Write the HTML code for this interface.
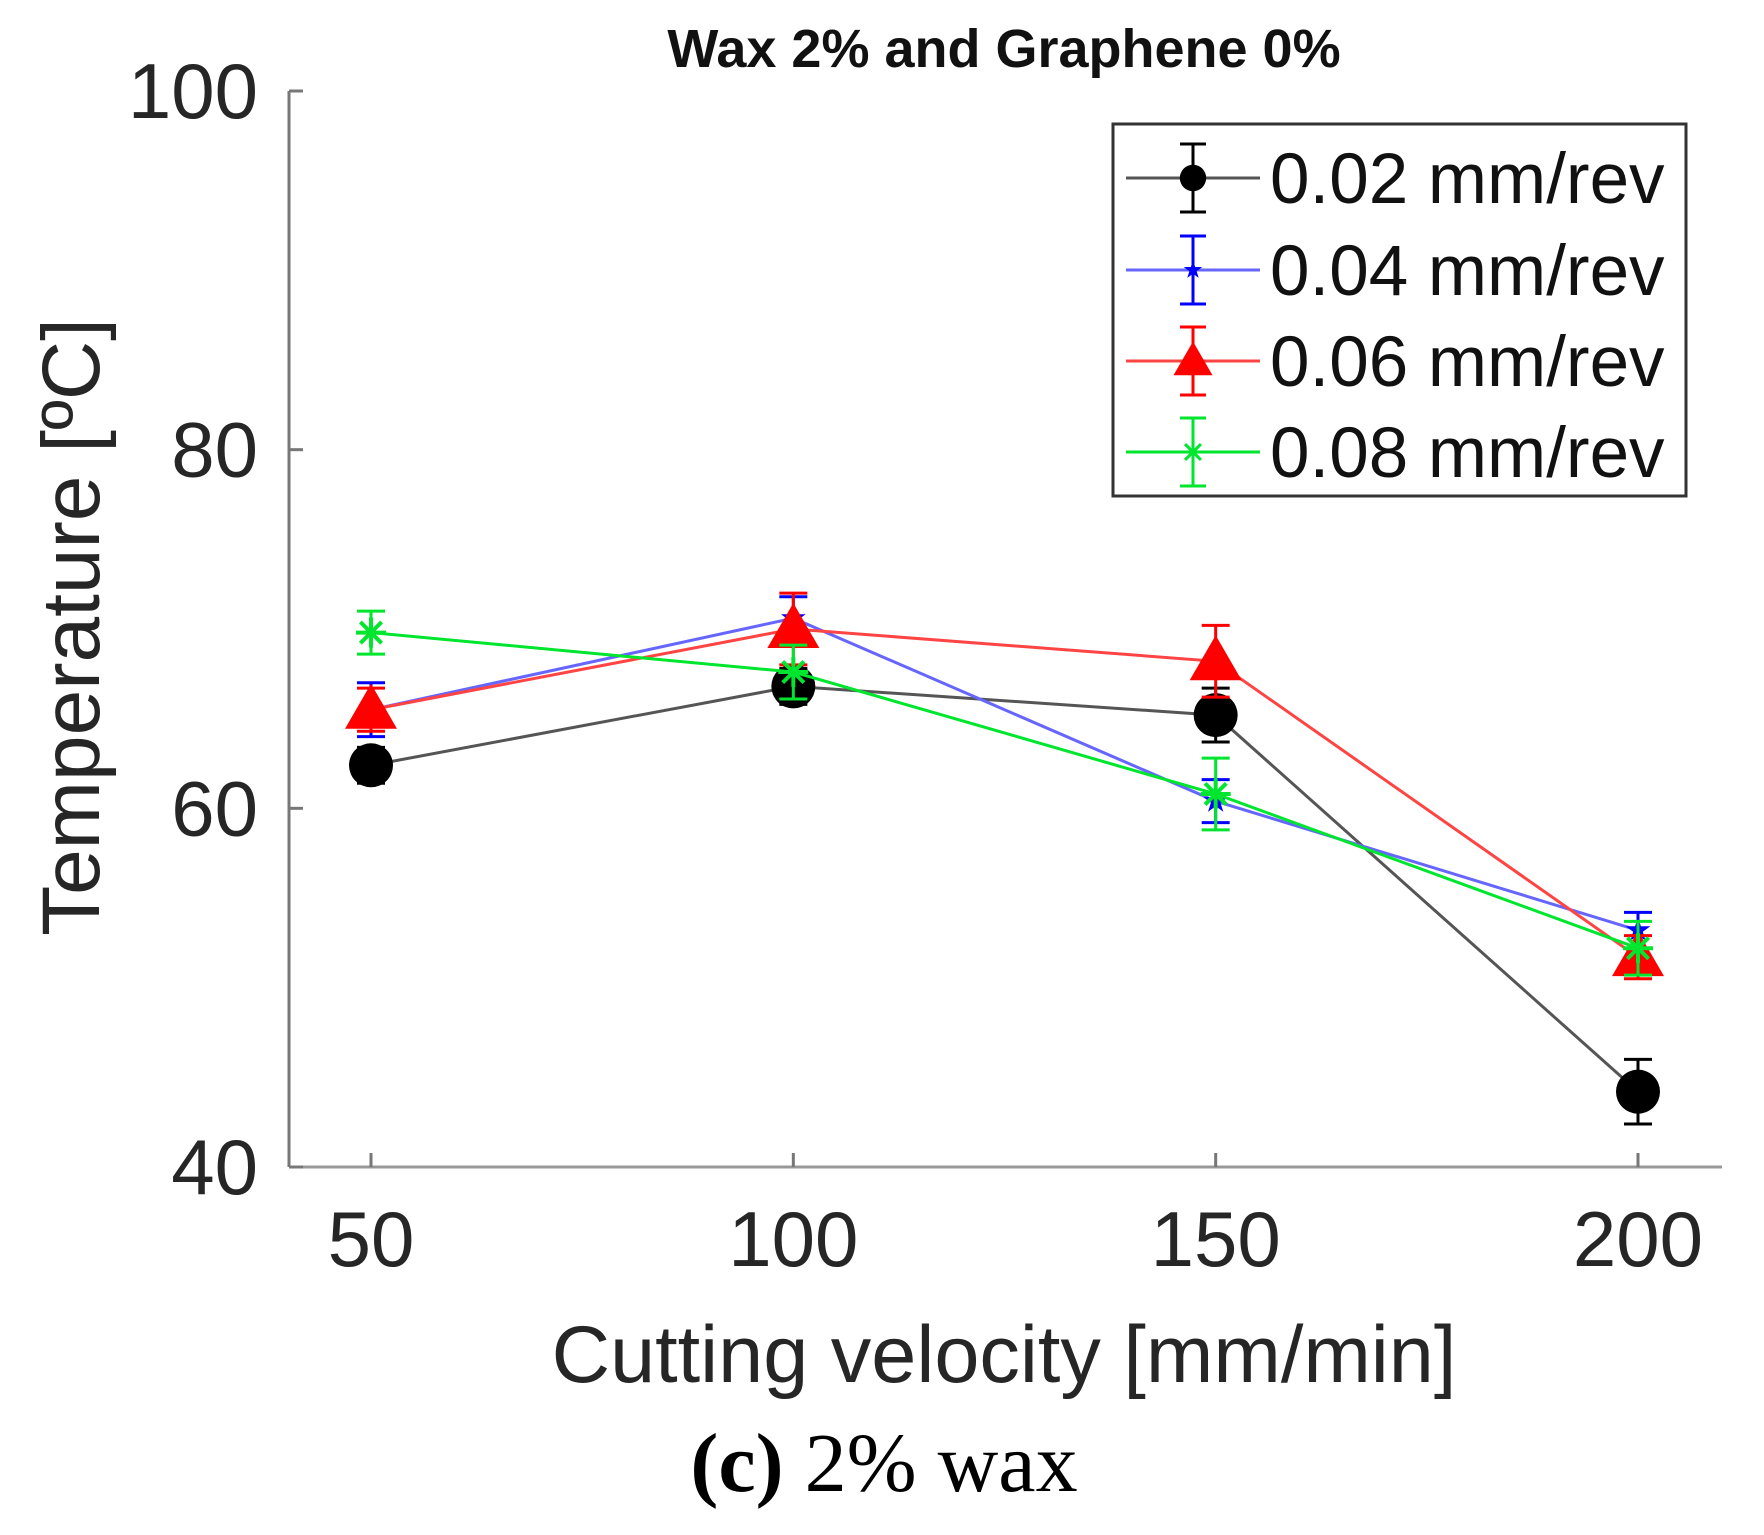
<!DOCTYPE html>
<html><head><meta charset="utf-8">
<style>
html,body{margin:0;padding:0;background:#fff;}
svg{display:block;}
</style></head>
<body>
<svg id="chart" width="1764" height="1535" viewBox="0 0 1764 1535" xmlns="http://www.w3.org/2000/svg" font-family="Liberation Sans, sans-serif">
<text x="1004" y="67" text-anchor="middle" font-size="54" font-weight="bold" fill="#111">Wax 2% and Graphene 0%</text>
<g id="axes"></g>
<g id="series"></g>
<g id="legend"></g>
<text transform="translate(99,627) rotate(-90)" text-anchor="middle" font-size="82" fill="#262626">Temperature [ºC]</text>
<text x="1004" y="1382" text-anchor="middle" font-size="81" fill="#262626">Cutting velocity [mm/min]</text>
<text x="884" y="1491" text-anchor="middle" font-size="84" font-family="Liberation Serif, serif" fill="#000"><tspan font-weight="bold">(c)</tspan> 2% wax</text>
</svg>
<script>
const categories = [50, 100, 150, 200];
const yTicks = [40, 60, 80, 100];
const seriesNames = ['0.02 mm/rev', '0.04 mm/rev', '0.06 mm/rev', '0.08 mm/rev'];
const s002 = [62.4, 66.8, 65.2, 44.2];
const s004 = [65.5, 70.6, 60.4, 53.2];
const s006 = [65.5, 70.0, 68.2, 51.7];
const s008 = [69.8, 67.6, 60.8, 52.2];
const e002 = [1.0, 1.0, 1.5, 1.8];
const e004 = [1.5, 1.2, 1.2, 1.0];
const e006 = [1.2, 2.0, 2.0, 1.2];
const e008 = [1.2, 1.5, 2.0, 1.5];

const NS = 'http://www.w3.org/2000/svg';
const X0 = 289, X1 = 1722, Y0 = 1167, Y1 = 91;
function xs(v){ return 371 + (v - 50) * (1638 - 371) / 150; }
function ys(v){ return Y0 - (v - 40) * (Y0 - Y1) / 60; }
function mk(tag, attrs, parent){ const e = document.createElementNS(NS, tag); for (const k in attrs) e.setAttribute(k, attrs[k]); parent.appendChild(e); return e; }

const axes = document.getElementById('axes');
let a = mk('line', {x1:X0, y1:Y1, x2:X0, y2:Y0, stroke:'#777', 'stroke-width':3}, axes);


a = mk('line', {x1:X0, y1:Y0, x2:X1, y2:Y0, stroke:'#999', 'stroke-width':3}, axes);


yTicks.forEach(t => {
  const y = ys(t);
  mk('line', {x1:X0, y1:y, x2:X0+14, y2:y, stroke:'#777', 'stroke-width':3}, axes);
  const tx = mk('text', {x:258, y:y+27, 'text-anchor':'end', 'font-size':78, fill:'#262626'}, axes);
  tx.textContent = t;
  
  
});
categories.forEach(c => {
  const x = xs(c);
  mk('line', {x1:x, y1:Y0, x2:x, y2:Y0-14, stroke:'#777', 'stroke-width':3}, axes);
  const tx = mk('text', {x:x, y:1266, 'text-anchor':'middle', 'font-size':78, fill:'#262626'}, axes);
  tx.textContent = c;
  
  
});

function marker(type, x, y, color, g){
  if (type === 'circle') mk('circle', {cx:x, cy:y, r:22, fill:'#000'}, g);
  else if (type === 'tri') mk('polygon', {points:`${x},${y-26} ${x-26},${y+19} ${x+26},${y+19}`, fill:color}, g);
  else if (type === 'star') {
    const p = [];
    for (let i=0;i<10;i++){ const r = i%2?5:13; const an = -Math.PI/2 + i*Math.PI/5; p.push((x+r*Math.cos(an)).toFixed(1)+','+(y+r*Math.sin(an)).toFixed(1)); }
    mk('polygon', {points:p.join(' '), fill:color}, g);
  } else if (type === 'ast') {
    for (let i=0;i<4;i++){ const an = i*Math.PI/4; mk('line', {x1:x-15*Math.cos(an), y1:y-15*Math.sin(an), x2:x+15*Math.cos(an), y2:y+15*Math.sin(an), stroke:color, 'stroke-width':4}, g); }
  }
}

const defs = [
  {name:'series-0-02', vals:s002, errs:e002, color:'#000', line:'#555', type:'circle'},
  {name:'series-0-04', vals:s004, errs:e004, color:'#0000ff', line:'#6666ff', type:'star'},
  {name:'series-0-06', vals:s006, errs:e006, color:'#ff0000', line:'#ff4444', type:'tri'},
  {name:'series-0-08', vals:s008, errs:e008, color:'#00e62e', line:'#00e62e', type:'ast'}
];
const sg = document.getElementById('series');
defs.forEach(d => {
  const g = mk('g', {}, sg);
  
  
  const pts = categories.map((c,i) => xs(c)+','+ys(d.vals[i])).join(' ');
  mk('polyline', {points:pts, fill:'none', stroke:d.line, 'stroke-width':3}, g);
  categories.forEach((c,i) => {
    const x = xs(c), yt = ys(d.vals[i]+d.errs[i]), yb = ys(d.vals[i]-d.errs[i]);
    const eb = mk('g', {stroke:d.color, 'stroke-width':3}, g);
    
    
    mk('line', {x1:x, y1:yt, x2:x, y2:yb}, eb);
    mk('line', {x1:x-14, y1:yt, x2:x+14, y2:yt}, eb);
    mk('line', {x1:x-14, y1:yb, x2:x+14, y2:yb}, eb);
    const mg = mk('g', {}, g);
    
    
    marker(d.type, x, ys(d.vals[i]), d.color, mg);
  });
});

const lg = document.getElementById('legend');
const box = mk('rect', {x:1113, y:124, width:573, height:372, fill:'#fff', stroke:'#333', 'stroke-width':3}, lg);


const rowY = [178, 270, 361, 452];
defs.forEach((d,i) => {
  const g = mk('g', {}, lg);
  
  
  const y = rowY[i];
  mk('line', {x1:1126, y1:y, x2:1260, y2:y, stroke:d.line, 'stroke-width':3}, g);
  mk('line', {x1:1193, y1:y-34, x2:1193, y2:y+34, stroke:d.color, 'stroke-width':3}, g);
  mk('line', {x1:1180, y1:y-34, x2:1206, y2:y-34, stroke:d.color, 'stroke-width':3}, g);
  mk('line', {x1:1180, y1:y+34, x2:1206, y2:y+34, stroke:d.color, 'stroke-width':3}, g);
  const sc = d.type === 'circle' ? 0.6 : 0.75;
  const mgrp = mk('g', {transform:`translate(1193,${y}) scale(${sc}) translate(-1193,${-y})`}, g);
  marker(d.type, 1193, y, d.color, mgrp);
  const t = mk('text', {x:1270, y:y+25, 'font-size':71, fill:'#111'}, g);
  t.textContent = seriesNames[i];
});
</script>
</body></html>
